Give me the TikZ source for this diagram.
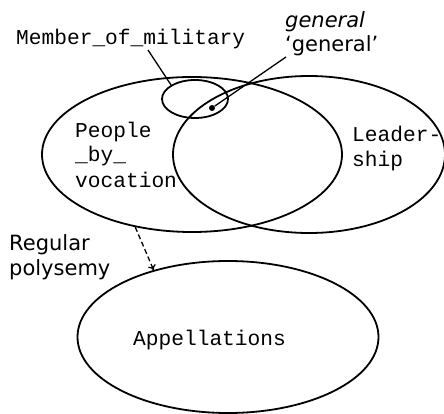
\documentclass[tikz,border=0pt]{standalone}
\usepackage{fontspec}
\setmainfont{DejaVu Sans}
\newfontfamily\monofam{Liberation Mono}
\usetikzlibrary{shapes.geometric,arrows.meta}
\tikzset{
  set/.style={ellipse, draw, line width=1.8pt, inner sep=0pt},
  monolabel/.style={font=\monofam\fontsize{21.2}{25}\selectfont, inner sep=0pt, align=left, anchor=base west},
  sanslabel/.style={font=\fontsize{21}{24.5}\selectfont, inner sep=0pt, align=left, anchor=base west},
  link/.style={line width=1.3pt},
}
\begin{document}
\begin{tikzpicture}[x=1pt,y=-1pt]
\useasboundingbox (0,0) rectangle (444,414);
\node[set, minimum width=300pt, minimum height=155pt] (pbv) at (192,154.5) {};
\node[set, minimum width=272pt, minimum height=157pt] (lead) at (309,154.5) {};
\node[set, minimum width=66pt, minimum height=38pt] (mil) at (195,99) {};
\node[set, minimum width=301pt, minimum height=152pt] (app) at (228,337) {};
\node[fill, circle, inner sep=0pt, minimum size=6pt] (dot) at (212,108) {};
\node[monolabel] (milt) at (16,45) {Member\_of\_military};
\node[monolabel] (pbvt) at (75,187) {People\\\_by\_\\vocation};
\node[monolabel] (leadt) at (352,167) {Leader-\\ship};
\node[monolabel] (appt) at (133,345) {Appellations};
\node[sanslabel] (gen) at (285,52) {\itshape general\\‘general’};
\node[sanslabel] (rp) at (9,275) {Regular\\polysemy};
\coordinate (c1) at (148,50);
\coordinate (c2) at (286,57);
\draw[link] (c1) -- (mil.north west);
\draw[link] (dot) -- (c2);
\draw[link, dash pattern=on 5pt off 3pt, -{To[length=5pt,width=8pt]}] (pbv.232) -- (app.138);
\end{tikzpicture}
\end{document}
